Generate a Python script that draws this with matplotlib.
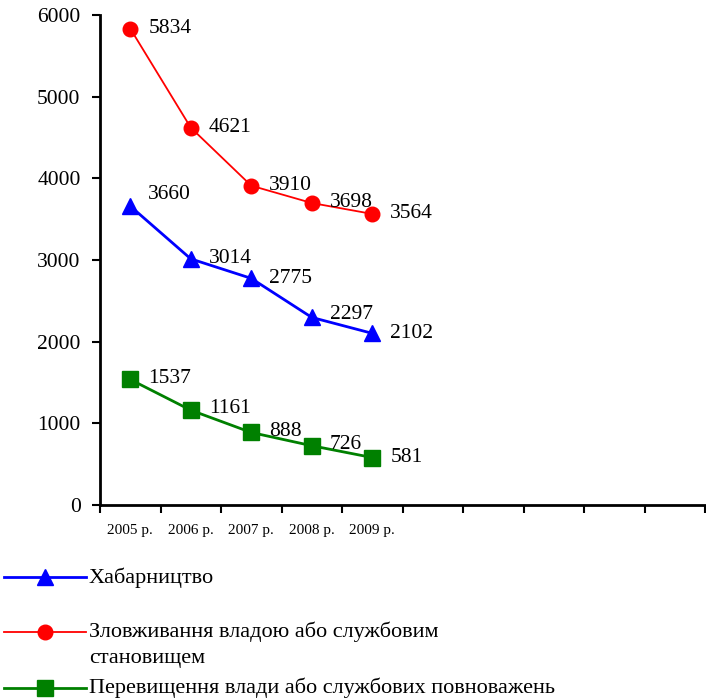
import matplotlib.pyplot as plt
from matplotlib.lines import Line2D
from matplotlib.ticker import FixedLocator, NullFormatter

plt.rcParams['font.family'] = ['Liberation Serif', 'DejaVu Serif']

# --- data ---
years = ["2005 р.", "2006 р.", "2007 р.", "2008 р.", "2009 р."]
n_slots = 10  # category axis keeps room for later years
bribery = [3660, 3014, 2775, 2297, 2102]
abuse = [5834, 4621, 3910, 3698, 3564]
excess = [1537, 1161, 888, 726, 581]

labels = ["Хабарництво",
          "Зловживання владою або службовим\nстановищем",
          "Перевищення влади або службових повноважень"]

W, H = 706, 699
fig = plt.figure(figsize=(W / 100, H / 100), dpi=100)
ax = fig.add_axes([100 / W, 1 - 505 / H, 605 / W, 490 / H])

x = list(range(len(years)))

styles = [
    dict(color='#0000ff', lw=2.0, marker='^', ms=11, mfc='#0000ff', mec='#0000ff'),
    dict(color='#ff0000', lw=1.3, marker='o', ms=10.5, mfc='#ff0000', mec='#ff0000'),
    dict(color='#008000', lw=2.0, marker='s', ms=11, mfc='#008000', mec='#008000'),
]

ax.plot(x, bribery, **styles[0], zorder=3)
ax.plot(x, abuse, **styles[1], zorder=3)
ax.plot(x, excess, **styles[2], zorder=3)

# value labels to the right of each point
for series, dy in [(bribery, [8, 0, 0, 2, 0]),
                   (abuse, [0, 0, 0, 0, 0]),
                   (excess, [1, 1, 1, 1, 0])]:
    for xi, v, d in zip(x, series, dy):
        ax.annotate(str(v), (xi, v), xytext=(13, d), textcoords='offset points',
                    fontsize=15.5, va='center', ha='left')

ax.set_xlim(-0.5, n_slots - 0.5)
ax.set_ylim(0, 6000)
ax.set_yticks(range(0, 6001, 1000))

# tick marks on category boundaries, labels centred on categories
ax.xaxis.set_major_locator(FixedLocator([i - 0.5 for i in range(n_slots + 1)]))
ax.xaxis.set_major_formatter(NullFormatter())
ax.xaxis.set_minor_locator(FixedLocator(x))
ax.set_xticklabels(years, minor=True)
ax.tick_params(axis='x', which='major', length=6, width=1.5, direction='out')
ax.tick_params(axis='x', which='minor', length=0, pad=14, labelsize=11)
ax.tick_params(axis='y', length=6, width=1.5, direction='out', pad=8, labelsize=15.5)

for s in ['top', 'right']:
    ax.spines[s].set_visible(False)
for s in ['left', 'bottom']:
    ax.spines[s].set_linewidth(2)

# legend below the plot
legend_y = [577, 632, 688]
for st, lab, yy in zip(styles, labels, legend_y):
    fy = 1 - yy / H
    fig.add_artist(Line2D([4 / W, 86 / W], [fy, fy], color=st['color'], lw=st['lw'],
                          transform=fig.transFigure))
    fig.add_artist(Line2D([45 / W], [fy], marker=st['marker'], ms=st['ms'],
                          mfc=st['mfc'], mec=st['mec'], transform=fig.transFigure))
    fig.text(89 / W, fy + 10 / H, lab, fontsize=16, va='top', ha='left',
             linespacing=1.45)

fig.savefig('out.png', dpi=100)
